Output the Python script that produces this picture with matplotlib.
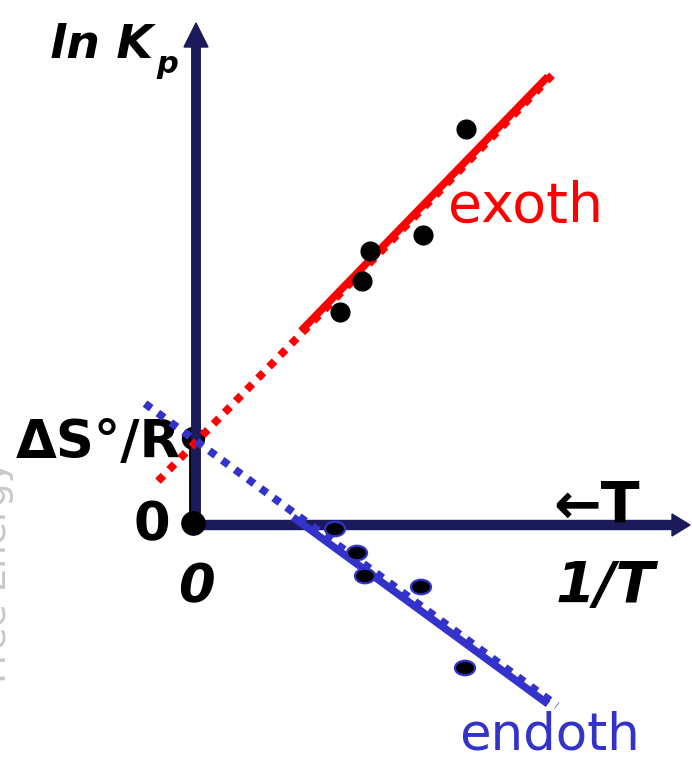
import matplotlib
matplotlib.use("Agg")
import matplotlib.pyplot as plt
from matplotlib.patches import Ellipse

# van 't Hoff plot: ln Kp against 1/T (axis units, origin at the axis crossing)
inv_T_exo = [1.44, 1.66, 1.74, 2.27, 2.70]
lnK_exo = [2.13, 2.44, 2.74, 2.90, 3.96]
inv_T_endo = [1.39, 1.61, 1.69, 2.25, 2.69]
lnK_endo = [-0.04, -0.28, -0.51, -0.62, -1.43]

# straight-line fits: ln Kp = dS/R - (dH/R)(1/T)
dS_R = 0.86
exo_slope = 1.03
endo_slope = -0.733
exo_fit_range = [1.05, 3.52]
exo_ext_range = [-0.38, 3.56]
endo_fit_range = [0.97, 3.52]
endo_ext_range = [-0.51, 3.61]

NAVY = "#1b1b5c"
RED = "#ff0000"
BLUE = "#3333cc"

fig = plt.figure(figsize=(6.92, 7.62), dpi=100)
ax = fig.add_axes([0, 0, 1, 1])
ax.set_xlim(-1.96, 4.96)
ax.set_ylim(-2.37, 5.25)
ax.axis("off")

# axes drawn as arrows
ax.arrow(0, -0.04, 0, 5.06, width=0.085, head_width=0.24, head_length=0.24,
         length_includes_head=True, color=NAVY, zorder=2)
ax.arrow(-0.04, 0, 4.98, 0, width=0.09, head_width=0.22, head_length=0.18,
         length_includes_head=True, color=NAVY, zorder=2)

# intercept segment and marker
ax.plot([-0.04, -0.04], [0, dS_R], color="black", lw=4.2, solid_capstyle="butt", zorder=1)
ax.scatter([-0.03], [dS_R + 0.01], s=250, color="black", zorder=1)
ax.scatter([-0.03], [0.02], s=280, color="black", zorder=3)


def line(x0, x1, b, m):
    return [x0, x1], [b + m * x0, b + m * x1]


# exothermic: extrapolated (dotted) and fitted (solid)
xs, ys = line(exo_ext_range[0], exo_ext_range[1], dS_R - 0.03, exo_slope)
ax.plot(xs, ys, color=RED, lw=5.6, ls=(0, (1, 1.05)), solid_capstyle="butt",
        dash_capstyle="butt", zorder=4)
xs, ys = line(exo_fit_range[0], exo_fit_range[1], dS_R, exo_slope)
ax.plot(xs, ys, color=RED, lw=5.4, solid_capstyle="butt", zorder=4)

# endothermic
xs, ys = line(endo_ext_range[0], endo_ext_range[1], dS_R - 0.02, endo_slope)
ax.plot(xs, ys, color=BLUE, lw=5.6, ls=(0, (1, 1.05)), dash_capstyle="butt", zorder=4)
xs, ys = line(endo_fit_range[0], endo_fit_range[1], dS_R - 0.07, endo_slope)
ax.plot(xs, ys, color=BLUE, lw=5.4, solid_capstyle="butt", zorder=4)

# data points
ax.scatter(inv_T_exo, lnK_exo, s=210, color="black", zorder=5, linewidths=0)
for x, y in zip(inv_T_endo, lnK_endo):
    ax.add_patch(Ellipse((x, y), 0.2, 0.145, facecolor="black",
                         edgecolor=BLUE, lw=1.6, zorder=5))

FONT = "DejaVu Sans"
# labels
ax.text(-1.46, 4.67, "ln K", fontsize=34, fontweight="bold", style="italic",
        family=FONT, ha="left", va="baseline")
ax.text(-0.40, 4.52, "p", fontsize=22, fontweight="bold", style="italic",
        family=FONT, ha="left", va="baseline")
ax.text(-0.15, 0.67, "ΔS°/R", fontsize=38, fontweight="bold", family=FONT,
        ha="right", va="baseline")
ax.text(-0.44, -0.15, "0", fontsize=38, fontweight="bold", family=FONT,
        ha="center", va="baseline")
ax.text(0.0, -0.77, "0", fontsize=38, fontweight="bold", style="italic",
        family=FONT, ha="center", va="baseline")
ax.text(4.44, 0.03, "←T", fontsize=41, fontweight="bold", family=FONT,
        ha="right", va="baseline")
ax.text(4.09, -0.78, "1/T", fontsize=41, fontweight="bold", style="italic",
        family=FONT, ha="center", va="baseline")
ax.text(3.30, 3.03, "exoth", fontsize=40, color=RED, family=FONT,
        ha="center", va="baseline")
ax.text(3.53, -2.25, "endoth", fontsize=37, color=BLUE, family=FONT,
        ha="center", va="baseline")

# faint side caption, running off the left edge
ax.text(-1.82, -0.47, "Free Energy", fontsize=27, color="#c8c8c8", family=FONT,
        rotation=90, ha="right", va="center")

fig.savefig("out.png", dpi=100)
